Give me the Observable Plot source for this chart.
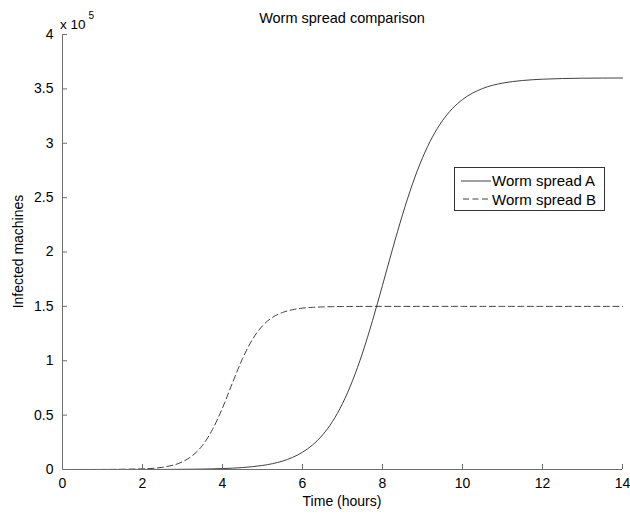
<!DOCTYPE html>
<html>
<head>
<meta charset="utf-8">
<script src="https://cdn.jsdelivr.net/npm/d3@7"></script>
<script src="https://cdn.jsdelivr.net/npm/@observablehq/plot@0.6"></script>
<style>
  html, body { margin: 0; padding: 0; background: #fff; }
  #chart { width: 630px; height: 516px; }
</style>
</head>
<body>
<div id="chart"></div>
<script>
// Time in hours
const hours = [0, 1, 2, 2.5, 3, 3.25, 3.5, 3.75, 4, 4.25, 4.5, 4.75, 5, 5.25, 5.5, 5.75, 6, 6.25, 6.5, 6.75, 7, 7.25, 7.5, 7.75, 8, 8.25, 8.5, 8.75, 9, 9.25, 9.5, 9.75, 10, 10.5, 11, 11.5, 12, 13, 14];
// Infected machines (x 10^5)
const spreadA = [0.0000, 0.0001, 0.0005, 0.0009, 0.0020, 0.0028, 0.0041, 0.0059, 0.0086, 0.0124, 0.0179, 0.0259, 0.0373, 0.0538, 0.0774, 0.111, 0.159, 0.225, 0.317, 0.441, 0.606, 0.816, 1.071, 1.369, 1.694, 2.026, 2.342, 2.626, 2.866, 3.059, 3.208, 3.320, 3.402, 3.503, 3.553, 3.577, 3.589, 3.598, 3.600];
const spreadB = [0.0000, 0.0005, 0.0061, 0.0211, 0.0711, 0.128, 0.222, 0.368, 0.566, 0.797, 1.019, 1.197, 1.321, 1.399, 1.444, 1.469, 1.484, 1.491, 1.495, 1.4975, 1.4986, 1.4993, 1.4996, 1.4998, 1.4999, 1.5, 1.5, 1.5, 1.5, 1.5, 1.5, 1.5, 1.5, 1.5, 1.5, 1.5, 1.5, 1.5, 1.5];
const xTicks = [0, 2, 4, 6, 8, 10, 12, 14];
const yTicks = [0, 0.5, 1, 1.5, 2, 2.5, 3, 3.5, 4];
const yTickLabels = ["0", "0.5", "1", "1.5", "2", "2.5", "3", "3.5", "4"];
const seriesNames = ["Worm spread A", "Worm spread B"];

const rows = hours.map((t, i) => ({t, a: spreadA[i], b: spreadB[i]}));
const axisColor = "#6e6e6e";
const lineColor = "#2a2a2a";
const font = "'Liberation Sans', Arial, Helvetica, sans-serif";

const chart = Plot.plot({
  width: 630,
  height: 516,
  marginLeft: 62,
  marginRight: 8,
  marginTop: 34,
  marginBottom: 47,
  style: {fontFamily: font, fontSize: "14px", background: "#fff", color: "#000"},
  x: {domain: [0, 14], label: null},
  y: {domain: [0, 4], label: null},
  marks: [
    Plot.line(rows, {x: "t", y: "b", stroke: lineColor, strokeWidth: 0.9, strokeDasharray: "6,3.5", curve: "monotone-x"}),
    Plot.line(rows, {x: "t", y: "a", stroke: lineColor, strokeWidth: 0.9, curve: "monotone-x"}),
    Plot.ruleX([0], {stroke: axisColor}),
    Plot.ruleY([0], {stroke: axisColor}),
    Plot.axisX(xTicks, {tickSize: -5, tickFormat: () => "", stroke: axisColor}),
    Plot.axisY(yTicks, {tickSize: -5, tickFormat: () => "", stroke: axisColor}),
    Plot.axisX(xTicks, {tickSize: 0, tickPadding: 9, tickFormat: d => String(d), fill: "#000", fontSize: 14}),
    Plot.axisY(yTicks, {tickSize: 0, tickPadding: 9, tickFormat: d => yTickLabels[yTicks.indexOf(d)], fill: "#000", fontSize: 14})
  ]
});

const svg = d3.select(chart);
const add = (x, y, txt, size, anchor, extra) => {
  const t = svg.append("text").attr("x", x).attr("y", y).attr("font-family", font)
    .attr("font-size", size).attr("text-anchor", anchor).attr("fill", "#000").text(txt);
  if (extra) extra(t);
  return t;
};
// Title
add(342, 23, "Worm spread comparison", 14.5, "middle");
// Axis labels
add(342, 506, "Time (hours)", 14, "middle");
add(0, 0, "Infected machines", 14, "middle", t => t.attr("transform", "translate(23,251.5) rotate(-90)"));
// Exponent
add(60, 29, "x 10", 13.5, "start");
add(88.5, 19, "5", 10, "start");

// Legend
const lg = svg.append("g");
lg.append("rect").attr("x", 454.5).attr("y", 167.5).attr("width", 150).attr("height", 43)
  .attr("fill", "#fff").attr("stroke", "#333").attr("stroke-width", 1);
lg.append("line").attr("x1", 461).attr("x2", 491).attr("y1", 181).attr("y2", 181)
  .attr("stroke", lineColor).attr("stroke-width", 0.9);
lg.append("line").attr("x1", 463).attr("x2", 491).attr("y1", 199).attr("y2", 199)
  .attr("stroke", lineColor).attr("stroke-width", 0.9).attr("stroke-dasharray", "6,3.5");
add(492, 186, seriesNames[0], 15, "start");
add(492, 204.5, seriesNames[1], 15, "start");

document.getElementById("chart").appendChild(chart);
</script>
</body>
</html>
